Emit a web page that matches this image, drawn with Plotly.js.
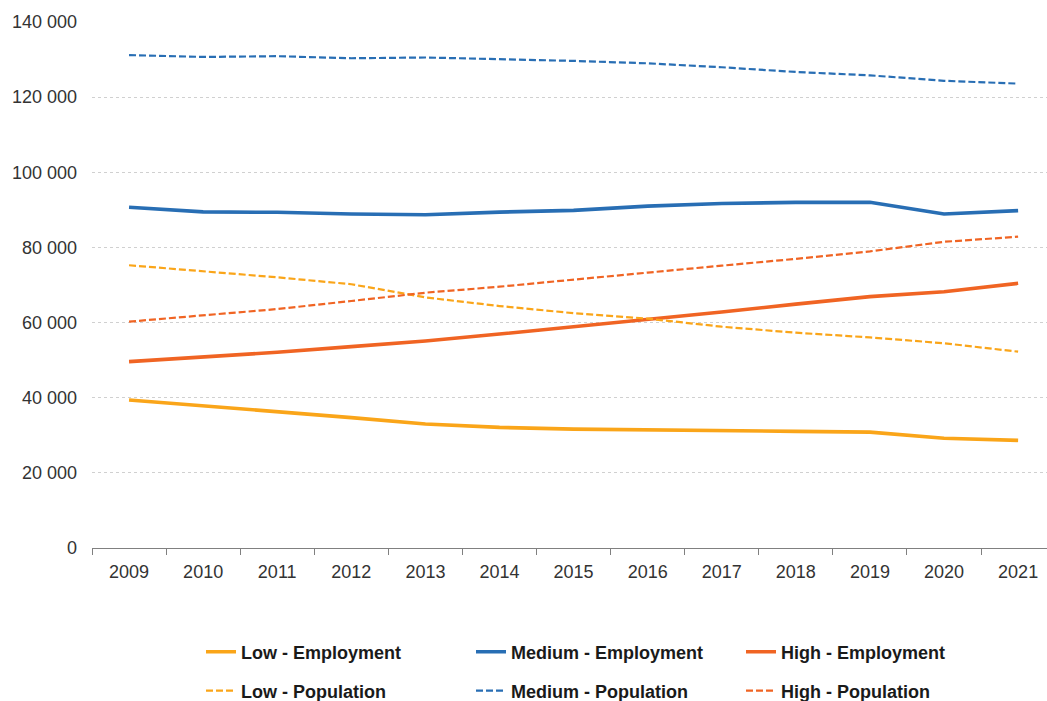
<!DOCTYPE html>
<html>
<head>
<meta charset="utf-8">
<script src="https://cdn.plot.ly/plotly-3.0.1.min.js"></script>
<style>html,body{margin:0;padding:0;background:#fff;}#chart{width:1047px;height:701px;}</style>
</head>
<body>
<div id="chart"></div>
<script>
const years = ["2009","2010","2011","2012","2013","2014","2015","2016","2017","2018","2019","2020","2021"];
const lowEmployment    = [39400, 37900, 36300, 34700, 33000, 32100, 31650, 31500, 31400, 31050, 30850, 29200, 28650];
const mediumEmployment = [90700, 89450, 89350, 88900, 88700, 89400, 89850, 91000, 91700, 92000, 92000, 88900, 89800];
const highEmployment   = [49600, 50750, 52100, 53600, 55100, 56950, 58850, 60700, 62800, 64900, 66900, 68200, 70450];
const lowPopulation    = [75250, 73650, 72050, 70200, 66700, 64400, 62500, 61050, 58900, 57300, 56050, 54500, 52250];
const mediumPopulation = [131200, 130700, 130900, 130350, 130550, 130150, 129650, 129000, 127950, 126700, 125800, 124350, 123600];
const highPopulation   = [60250, 62000, 63600, 65750, 67950, 69550, 71350, 73300, 75150, 76950, 78950, 81500, 82850];

const cLow = "#FAA519", cMed = "#286EB4", cHigh = "#F06423";

function tr(name, y, color, dash, legend) {
  return {
    type: "scatter", mode: "lines", name: name, x: years, y: y,
    line: {color: color, width: dash ? 2.2 : 3.6, dash: dash ? "7px,3px" : "solid"},
    legend: legend, hoverinfo: "x+y+name"
  };
}

const data = [
  tr("Low - Employment", lowEmployment, cLow, false, "legend"),
  tr("Medium - Employment", mediumEmployment, cMed, false, "legend"),
  tr("High - Employment", highEmployment, cHigh, false, "legend"),
  tr("Low - Population", lowPopulation, cLow, true, "legend2"),
  tr("Medium - Population", mediumPopulation, cMed, true, "legend2"),
  tr("High - Population", highPopulation, cHigh, true, "legend2")
];

const legFont = {family: "Liberation Sans, Arial, sans-serif", size: 18, color: "#1a1a1a", weight: "bold"};
const legBase = {orientation: "h", xref: "container", yref: "container", xanchor: "left", yanchor: "middle",
  entrywidth: 225, entrywidthmode: "pixels", font: legFont, bgcolor: "rgba(0,0,0,0)", borderwidth: 0};
const layout = {
  width: 1047, height: 701,
  margin: {l: 92, r: 0, t: 22, b: 153},
  paper_bgcolor: "#fff", plot_bgcolor: "#fff",
  separators: ". ",
  font: {family: "Liberation Sans, Arial, sans-serif", size: 18, color: "#333"},
  xaxis: {
    type: "category", range: [-0.5, 12.39],
    showgrid: false, zeroline: false,
    showline: true, linecolor: "#808080", linewidth: 1,
    ticks: "outside", tickson: "boundaries", ticklen: 6, tickcolor: "#808080",
    ticklabelstandoff: 7,
    tickfont: {size: 18, color: "#333"}
  },
  yaxis: {
    range: [0, 140000], dtick: 20000, tickformat: ",d",
    showgrid: true, gridcolor: "#d0d0d0", griddash: "dot", gridwidth: 1,
    zeroline: false, showline: false, ticks: "",
    ticklabelstandoff: 14,
    tickfont: {size: 18, color: "#333"}
  },
  showlegend: true,
  legend: Object.assign({}, legBase, {x: 201 / 1047, y: (701 - 652) / 701}),
  legend2: Object.assign({}, legBase, {x: 201 / 1047, y: (701 - 691) / 701})
};

Plotly.newPlot("chart", data, layout, {displayModeBar: false, staticPlot: true});
</script>
</body>
</html>
